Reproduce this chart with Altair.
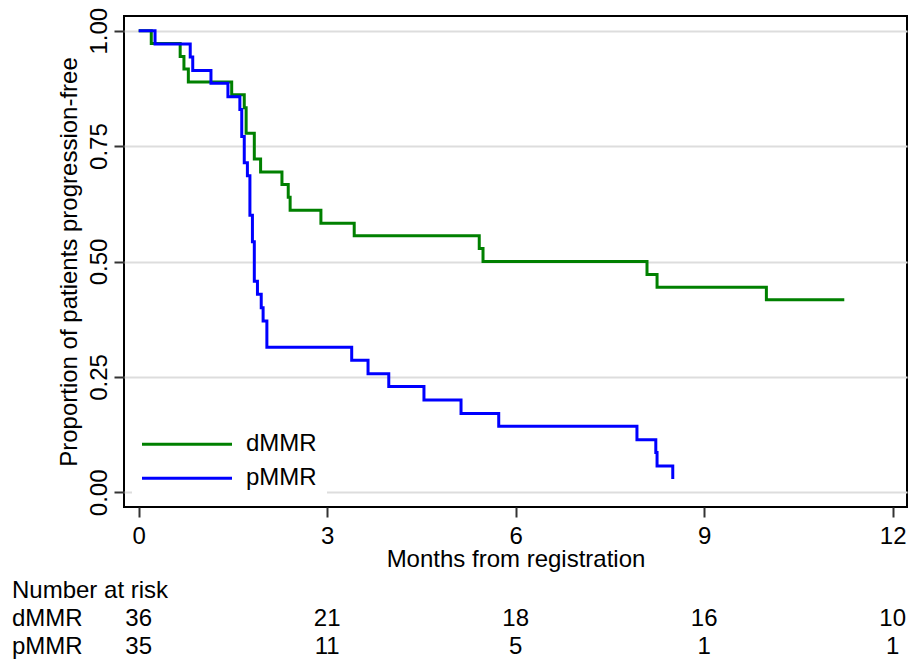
import altair as alt
import pandas as pd

FONT = "Liberation Sans"

# Kaplan-Meier step data
d_time = [0, 0.20, 0.66, 0.72, 0.79, 1.48, 1.68, 1.71, 1.84, 1.94, 2.28, 2.38, 2.41,
          2.90, 3.43, 5.42, 5.48, 8.09, 8.25, 9.99, 11.23]
d_surv = [1.0, 0.972, 0.944, 0.917, 0.889, 0.861, 0.833, 0.778, 0.722, 0.694, 0.667,
          0.639, 0.611, 0.583, 0.556, 0.528, 0.5, 0.472, 0.444, 0.417, 0.417]
p_time = [0, 0.26, 0.82, 0.86, 1.15, 1.42, 1.61, 1.64, 1.68, 1.73, 1.77, 1.81, 1.84,
          1.89, 1.95, 1.98, 2.04, 3.39, 3.65, 3.98, 4.54, 5.13, 5.73, 7.93, 8.23, 8.25, 8.50]
p_surv = [1.0, 0.971, 0.943, 0.914, 0.886, 0.857, 0.829, 0.771, 0.714, 0.686, 0.6,
          0.543, 0.457, 0.429, 0.4, 0.371, 0.314, 0.286, 0.257, 0.229, 0.2, 0.171,
          0.143, 0.114, 0.086, 0.057, 0.029]

groups = ["dMMR", "pMMR"]
colors = ["#008000", "#0000ff"]

x_ticks = [0, 3, 6, 9, 12]
y_ticks = [0, 0.25, 0.5, 0.75, 1]

risk_times = [0, 3, 6, 9, 12]
risk_d = [36, 21, 18, 16, 10]
risk_p = [35, 11, 5, 1, 1]
risk_header = ["Number at risk"]

km = pd.DataFrame({
    "time": d_time + p_time,
    "surv": d_surv + p_surv,
    "group": [groups[0]] * len(d_time) + [groups[1]] * len(p_time),
})
risk = pd.DataFrame({
    "time": risk_times * 2,
    "n": risk_d + risk_p,
    "group": [groups[0]] * len(risk_times) + [groups[1]] * len(risk_times),
})

x_scale = alt.Scale(domain=[-0.234, 12.228], nice=False, zero=False)
y_scale = alt.Scale(domain=[-0.0318, 1.0318], nice=False, zero=False)

x_axis = alt.Axis(
    values=x_ticks, title="Months from registration", grid=False, domain=False,
    tickSize=10, tickWidth=2, tickColor="#333333",
    labelFontSize=24, labelColor="black", labelPadding=26,
    labelBaseline="alphabetic", labelFlush=False, labelOverlap=False,
    titleFontSize=24, titleFontWeight="normal", titleColor="black",
    titleBaseline="alphabetic", titleY=59.5)
x_enc = alt.X("time:Q", scale=x_scale, axis=x_axis, title="Months from registration")

lines = alt.Chart(km).mark_line(
    interpolate="step-after", strokeWidth=3, strokeJoin="miter"
).encode(
    x=x_enc,
    y=alt.Y("surv:Q", scale=y_scale, axis=alt.Axis(
        values=y_ticks, format=".2f", title="Proportion of patients progression-free",
        grid=True, gridColor="#dddddd", gridWidth=2, domain=False,
        tickSize=10, tickWidth=2, tickColor="#333333",
        labelFontSize=24, labelColor="black", labelAngle=270, labelAlign="center",
        labelBaseline="alphabetic", labelPadding=8, labelOverlap=False, labelFlush=False,
        titleFontSize=24, titleFontWeight="normal", titleColor="black",
        titleAngle=270, titleAlign="center", titleBaseline="alphabetic",
        titleX=-48, titleY=245.5)),
    color=alt.Color("group:N", scale=alt.Scale(domain=groups, range=colors),
                    legend=alt.Legend(
                        orient="none", legendX=8, legendY=406.2, title=None,
                        fillColor="white", padding=10,
                        symbolType="M-9,0L9,0", symbolSize=100, symbolStrokeWidth=3,
                        symbolOffset=33, labelOffset=47, labelFontSize=24,
                        labelColor="black", rowPadding=10)),
)

layers = [lines]

row_y = {groups[0]: 610, groups[1]: 638}
for g in groups:
    nums = alt.Chart(risk).transform_filter(alt.datum.group == g).mark_text(
        fontSize=24, align="center", baseline="alphabetic", color="black"
    ).encode(
        x=x_enc,
        y=alt.value(row_y[g]),
        text="n:Q",
    )
    lab = alt.Chart(pd.DataFrame({"label": [g]})).mark_text(
        fontSize=24, align="left", baseline="alphabetic", color="black"
    ).encode(x=alt.value(-112), y=alt.value(row_y[g]), text="label:N")
    layers += [nums, lab]

header = alt.Chart(pd.DataFrame({"label": risk_header})).mark_text(
    fontSize=24, align="left", baseline="alphabetic", color="black"
).encode(x=alt.value(-112), y=alt.value(582), text="label:N")
layers.append(header)

chart = alt.layer(*layers).properties(
    width=783, height=491,
    autosize=alt.AutoSizeParams(type="none"),
    padding={"left": 124, "top": 16, "right": 3, "bottom": 154},
).configure(font=FONT).configure_view(stroke="black", strokeWidth=2)

chart.save("out.html", embed_options={"renderer": "svg", "actions": False})
